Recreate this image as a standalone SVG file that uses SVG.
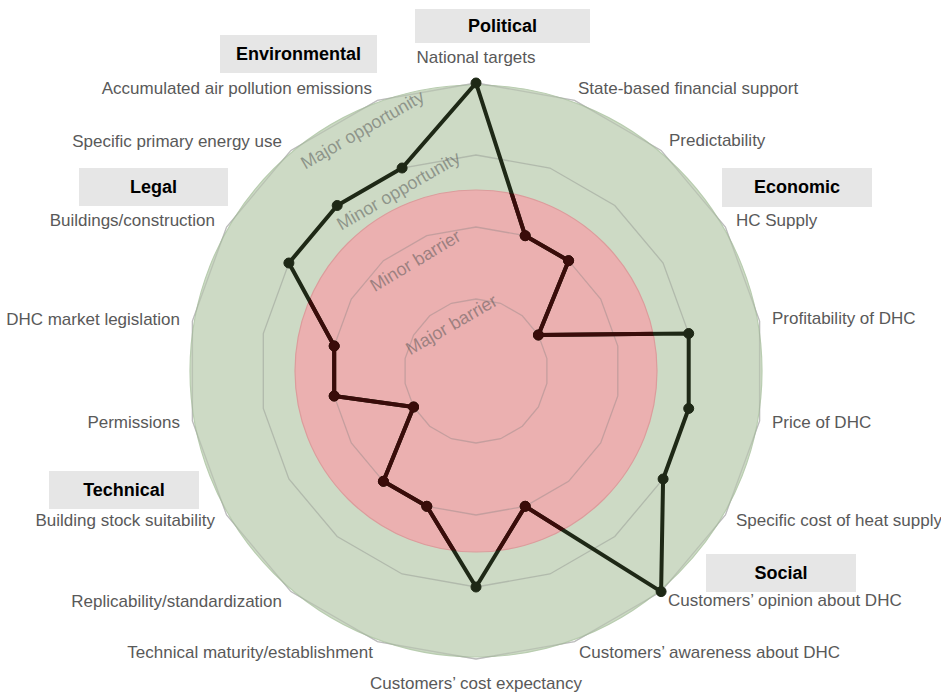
<svg xmlns="http://www.w3.org/2000/svg" width="941" height="692" viewBox="0 0 941 692">
<style>
.lbl{font-family:"Liberation Sans",Arial,sans-serif;font-size:17px;fill:#595959}
.cat{font-family:"Liberation Sans",Arial,sans-serif;font-size:18px;font-weight:bold;fill:#000;text-anchor:middle}
.box{fill:#e6e6e6}
.grid{fill:none;stroke:#7f7f7f;stroke-opacity:0.35;stroke-width:1.3}
.ring{font-family:"Liberation Sans",Arial,sans-serif;font-size:18px;fill:#505050;fill-opacity:0.5;text-anchor:middle}
.dl{fill:none;stroke-width:4;stroke-linejoin:round}
</style>
<defs>
<clipPath id="redclip"><circle cx="476" cy="371" r="181"/></clipPath>
<g id="series">
<polygon class="dl" points="476,83 525.2,235.7 568.6,260.7 538.4,335 688.7,333.5 688.7,408.5 663.1,479 661.1,591.6 525.2,506.3 476,587 426.8,506.3 383.4,481.3 413.6,407 334.2,396 334.2,346 288.9,263 337.2,205.5 402.1,168"/>
<circle cx="476" cy="83" r="5"/><circle cx="525.2" cy="235.7" r="5"/><circle cx="568.6" cy="260.7" r="5"/><circle cx="538.4" cy="335" r="5"/><circle cx="688.7" cy="333.5" r="5"/><circle cx="688.7" cy="408.5" r="5"/><circle cx="663.1" cy="479" r="5"/><circle cx="661.1" cy="591.6" r="5"/><circle cx="525.2" cy="506.3" r="5"/><circle cx="476" cy="587" r="5"/><circle cx="426.8" cy="506.3" r="5"/><circle cx="383.4" cy="481.3" r="5"/><circle cx="413.6" cy="407" r="5"/><circle cx="334.2" cy="396" r="5"/><circle cx="334.2" cy="346" r="5"/><circle cx="288.9" cy="263" r="5"/><circle cx="337.2" cy="205.5" r="5"/><circle cx="402.1" cy="168" r="5"/>
</g>
</defs>
<rect width="941" height="692" fill="#fff"/>
<g id="background">
<polygon points="476,83 574.5,100.4 661.1,150.4 725.4,227 759.6,321 759.6,421 725.4,515 661.1,591.6 574.5,641.6 476,659 377.5,641.6 290.9,591.6 226.6,515 192.4,421 192.4,321 226.6,227 290.9,150.4 377.5,100.4" fill="none" stroke="#d0d0d0" stroke-width="1.3"/>
<circle cx="476" cy="371" r="286" fill="#cddac5" stroke="#b9cdb0" stroke-width="1.2"/>
<circle cx="476" cy="371" r="181" fill="#ebb0b0" stroke="#dc9c9c" stroke-width="1.2"/>
</g>
<g id="gridlines">
<polygon class="grid" points="476,299 500.6,303.3 522.3,315.8 538.4,335 546.9,358.5 546.9,383.5 538.4,407 522.3,426.2 500.6,438.7 476,443 451.4,438.7 429.7,426.2 413.6,407 405.1,383.5 405.1,358.5 413.6,335 429.7,315.8 451.4,303.3"/>
<polygon class="grid" points="476,227 525.2,235.7 568.6,260.7 600.7,299 617.8,346 617.8,396 600.7,443 568.6,481.3 525.2,506.3 476,515 426.8,506.3 383.4,481.3 351.3,443 334.2,396 334.2,346 351.3,299 383.4,260.7 426.8,235.7"/>
<polygon class="grid" points="476,155 549.9,168 614.8,205.5 663.1,263 688.7,333.5 688.7,408.5 663.1,479 614.8,536.5 549.9,574 476,587 402.1,574 337.2,536.5 288.9,479 263.3,408.5 263.3,333.5 288.9,263 337.2,205.5 402.1,168"/>
<polygon class="grid" points="476,83 574.5,100.4 661.1,150.4 725.4,227 759.6,321 759.6,421 725.4,515 661.1,591.6 574.5,641.6 476,659 377.5,641.6 290.9,591.6 226.6,515 192.4,421 192.4,321 226.6,227 290.9,150.4 377.5,100.4" style="stroke-opacity:0.25"/>
</g>
<g id="ring-labels">
<text class="ring" transform="translate(365.5,135) rotate(-30)">Major opportunity</text>
<text class="ring" transform="translate(401.5,196) rotate(-30)">Minor opportunity</text>
<text class="ring" transform="translate(418.5,266) rotate(-31)">Minor barrier</text>
<text class="ring" transform="translate(454.5,330) rotate(-30)">Major barrier</text>
</g>
<g id="connectors">
<use href="#series" fill="#1e2816" stroke="#1e2816"/>
<use href="#series" fill="#3a0c0a" stroke="#3a0c0a" clip-path="url(#redclip)"/>
</g>
<g id="axis-labels">
<text class="lbl" x="476" y="63" text-anchor="middle">National targets</text>
<text class="lbl" x="578" y="94">State-based financial support</text>
<text class="lbl" x="669" y="146">Predictability</text>
<text class="lbl" x="736" y="226">HC Supply</text>
<text class="lbl" x="772" y="324">Profitability of DHC</text>
<text class="lbl" x="772" y="428">Price of DHC</text>
<text class="lbl" x="736" y="526">Specific cost of heat supply</text>
<text class="lbl" x="668" y="606">Customers’ opinion about DHC</text>
<text class="lbl" x="579" y="658">Customers’ awareness about DHC</text>
<text class="lbl" x="476" y="689" text-anchor="middle">Customers’ cost expectancy</text>
<text class="lbl" x="373" y="658" text-anchor="end">Technical maturity/establishment</text>
<text class="lbl" x="282" y="607" text-anchor="end">Replicability/standardization</text>
<text class="lbl" x="215" y="526" text-anchor="end">Building stock suitability</text>
<text class="lbl" x="180" y="428" text-anchor="end">Permissions</text>
<text class="lbl" x="180" y="325" text-anchor="end">DHC market legislation</text>
<text class="lbl" x="215" y="226" text-anchor="end">Buildings/construction</text>
<text class="lbl" x="282" y="147" text-anchor="end">Specific primary energy use</text>
<text class="lbl" x="372" y="94" text-anchor="end">Accumulated air pollution emissions</text>
</g>
<g id="cat-political"><rect class="box" x="415" y="9" width="175" height="34"/><text class="cat" x="502.5" y="32">Political</text></g>
<g id="cat-environmental"><rect class="box" x="220" y="35" width="157" height="38"/><text class="cat" x="298.5" y="60">Environmental</text></g>
<g id="cat-legal"><rect class="box" x="79" y="168" width="149" height="38"/><text class="cat" x="153.5" y="193">Legal</text></g>
<g id="cat-economic"><rect class="box" x="722" y="168" width="150" height="39"/><text class="cat" x="797" y="193">Economic</text></g>
<g id="cat-technical"><rect class="box" x="49" y="471" width="150" height="38"/><text class="cat" x="124" y="496">Technical</text></g>
<g id="cat-social"><rect class="box" x="706" y="554" width="150" height="38"/><text class="cat" x="781" y="579">Social</text></g>
</svg>
